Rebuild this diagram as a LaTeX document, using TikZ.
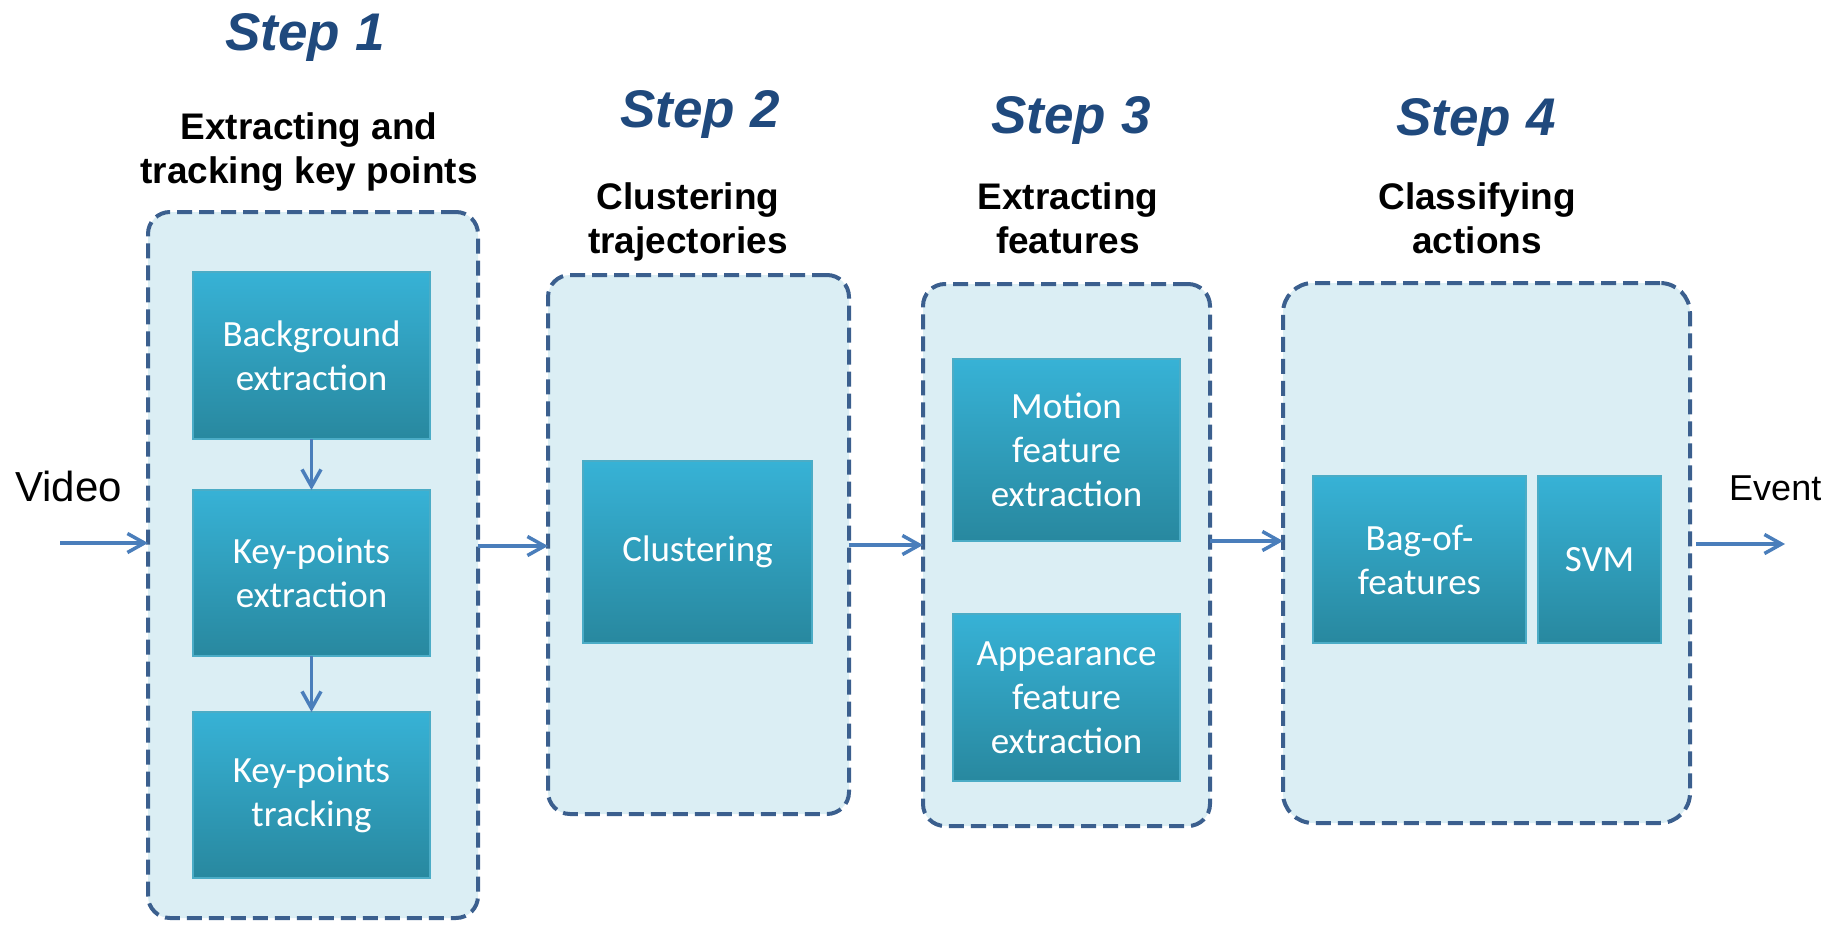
\documentclass[tikz,border=0pt]{standalone}
\usepackage{fontspec}
\newfontfamily\arialf{Liberation Sans}
\newfontfamily\calib{Carlito}
\usetikzlibrary{arrows.meta}
\definecolor{stepblue}{HTML}{1F497D}
\definecolor{dashblue}{HTML}{3B5F8E}
\definecolor{panelfill}{HTML}{DBEEF4}
\definecolor{innertop}{HTML}{37B2D6}
\definecolor{innermid}{HTML}{32A4C3}
\definecolor{innerbot}{HTML}{28889F}
\definecolor{innerline}{HTML}{4BACC6}
\definecolor{arrowblue}{HTML}{4A7EBB}
\begin{document}
\begin{tikzpicture}[x=1pt,y=-1pt,
  panel/.style={draw=dashblue, line width=4pt, dash pattern=on 15pt off 7pt,
    fill=panelfill, rounded corners=22pt, inner sep=0pt, outer sep=0pt},
  inner/.style={draw=innerline, line width=2.5pt, top color=innertop,
    middle color=innermid, bottom color=innerbot, text=white,
    font=\calib\fontsize{37}{44}\selectfont, align=center, inner sep=0pt, outer sep=0pt},
  steptitle/.style={anchor=base, text=stepblue, inner sep=0pt,
    font=\arialf\bfseries\itshape\fontsize{53}{60}\selectfont},
  header/.style={anchor=base, align=center, inner sep=0pt,
    font=\arialf\bfseries\fontsize{37}{44}\selectfont},
  plain/.style={anchor=base west, inner sep=0pt},
  arr/.style={draw=arrowblue, line width=3.5pt, -{Straight Barb[length=17pt,width=19pt]}}
]
\useasboundingbox (0,0) rectangle (1841,929);

% panels
\node[panel, minimum width=330pt, minimum height=706pt] (box1) at (313,565) {};
\node[panel, minimum width=301pt, minimum height=539pt] (box2) at (698.5,544.5) {};
\node[panel, minimum width=287pt, minimum height=542pt] (box3) at (1066.5,555) {};
\node[panel, minimum width=407pt, minimum height=540pt, rounded corners=30pt] (box4) at (1486.5,553) {};

% inner boxes
\node[inner, minimum width=237pt, minimum height=167pt] (bg) at (311.5,355.5) {Background\\extraction};
\node[inner, minimum width=237pt, minimum height=166pt] (kpe) at (311.5,573) {Key-points\\extraction};
\node[inner, minimum width=237pt, minimum height=166pt] (kpt) at (311.5,795) {Key-points\\tracking};
\node[inner, minimum width=229pt, minimum height=182pt] (clu) at (697.5,552) {Clustering};
\node[inner, minimum width=227pt, minimum height=182pt] (mot) at (1066.5,450) {Motion\\feature\\extraction};
\node[inner, minimum width=227pt, minimum height=167pt] (app) at (1066.5,697.5) {Appearance\\feature\\extraction};
\node[inner, minimum width=213pt, minimum height=167pt] (bag) at (1419.5,559.5) {Bag-of-\\features};
\node[inner, minimum width=123pt, minimum height=167pt] (svm) at (1599.5,559.5) {SVM};

% titles
\node[steptitle] (s1) at (305,50) {Step 1};
\node[steptitle] (s2) at (700,127) {Step 2};
\node[steptitle] (s3) at (1071,133) {Step 3};
\node[steptitle] (s4) at (1476,135) {Step 4};

\node[header] (h1) at (309,183) {Extracting and\\tracking key points};
\node[header] (h2) at (688,253) {Clustering\\trajectories};
\node[header] (h3) at (1068,253) {Extracting\\features};
\node[header] (h4) at (1477,253) {Classifying\\actions};

\node[plain, font=\arialf\fontsize{42}{48}\selectfont] (video) at (15,501) {Video};
\node[plain, font=\arialf\fontsize{36}{42}\selectfont] (event) at (1729,500) {Event};

% arrows
\coordinate (vstart) at (60,543);
\coordinate (eend) at (1785,544);
\coordinate (y12) at (0,546);
\coordinate (y23) at (0,545);
\coordinate (y34) at (0,541);

\draw[arr] (vstart) -- (box1.west |- vstart);
\draw[arr] (bg.south) -- (kpe.north);
\draw[arr] (kpe.south) -- (kpt.north);
\draw[arr] (box1.east |- y12) -- (box2.west |- y12);
\draw[arr] (box2.east |- y23) -- (box3.west |- y23);
\draw[arr] (box3.east |- y34) -- (box4.west |- y34);
\draw[arr] ([xshift=6pt]box4.east |- eend) -- (eend);
\end{tikzpicture}
\end{document}
